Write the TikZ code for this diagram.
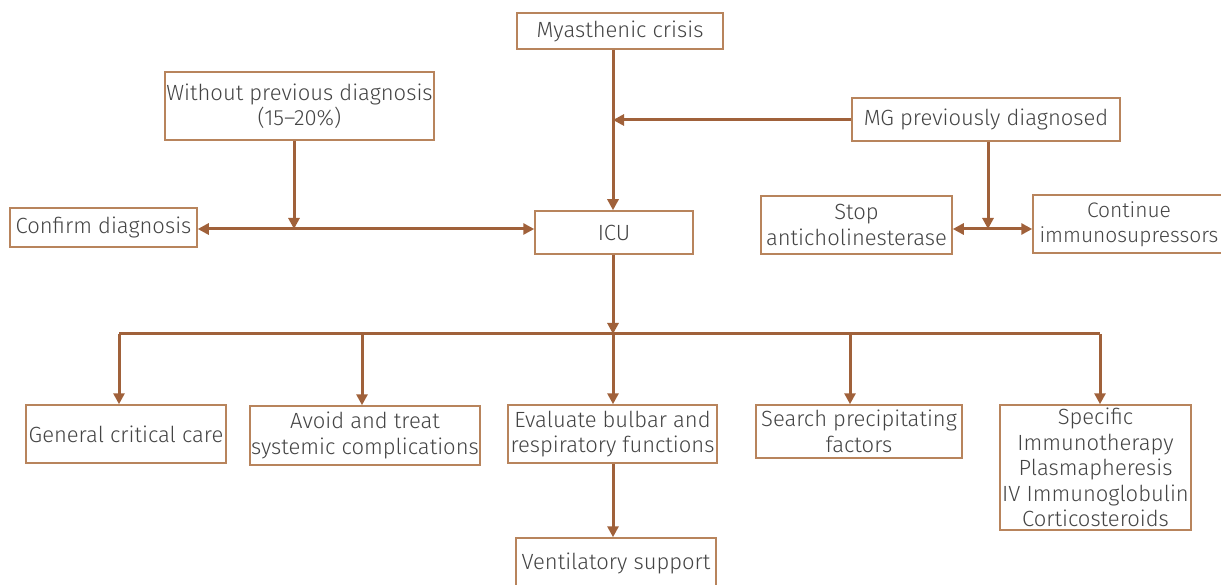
\documentclass[tikz,border=0pt]{standalone}
\usepackage{fontspec}
\setmainfont{Fira Sans}[UprightFont=* Light]
\usetikzlibrary{arrows.meta}
\definecolor{boxc}{HTML}{B8845C}
\definecolor{arrc}{HTML}{A0613A}
\definecolor{txtc}{HTML}{444444}
\tikzset{
  box/.style={draw=boxc, line width=1.5pt, fill=white, text=txtc, align=center, inner sep=0pt, font=\fontsize{22}{25.5}\selectfont},
  conn/.style={draw=arrc, line width=3pt},
  arr/.style={conn, -{Triangle[length=11pt,width=11pt]}},
  darr/.style={conn, {Triangle[length=11pt,width=11pt]}-{Triangle[length=11pt,width=11pt]}},
}
\begin{document}
\begin{tikzpicture}[x=1pt,y=-1pt]
\useasboundingbox (0,0) rectangle (1221,585);
\node[box, minimum width=206pt, minimum height=36pt] (mc) at (620,31) {Myasthenic crisis};
\node[box, minimum width=269pt, minimum height=68pt] (wp) at (299.5,106) {Without previous diagnosis\\(15--20\%)};
\node[box, minimum width=268pt, minimum height=43pt] (mg) at (986,119.5) {MG previously diagnosed};
\node[box, minimum width=187pt, minimum height=39pt] (cd) at (103.5,227.5) {Confirm diagnosis};
\node[box, minimum width=158pt, minimum height=43pt] (icu) at (614,232.5) {ICU};
\node[box, minimum width=191pt, minimum height=58pt] (sa) at (856.5,225) {Stop\\anticholinesterase};
\node[box, minimum width=192pt, minimum height=58pt, font=\fontsize{21}{25.5}\selectfont] (ci) at (1129,224) {Continue\\immunosupressors};
\node[box, minimum width=200pt, minimum height=58pt] (gc) at (126,434) {General critical care};
\node[box, minimum width=230pt, minimum height=59pt] (at) at (365,435.5) {Avoid and treat\\systemic complications};
\node[box, minimum width=209pt, minimum height=58pt] (eb) at (612.5,434) {Evaluate bulbar and\\respiratory functions};
\node[box, minimum width=206pt, minimum height=53pt] (sp) at (859,431.5) {Search precipitating\\factors};
\node[box, minimum width=191pt, minimum height=125pt] (si) at (1095.5,467.5) {Specific\\Immunotherapy\\Plasmapheresis\\IV Immunoglobulin\\Corticosteroids};
\node[box, minimum width=200pt, minimum height=50pt] (vs) at (616,563) {Ventilatory support};
% coordinates
\coordinate (j1) at (613,120);
\coordinate (j2) at (294,229);
\coordinate (j3) at (988,229);
\coordinate (h) at (613,334);
\coordinate (hl) at (119,334);
\coordinate (hr) at (1100,334);
% connectors
\draw[arr] (mc.south -| 613,0) -- (icu.north -| 613,0);
\draw[arr] (mg.west |- j1) -- (j1);
\draw[arr] (wp.south -| j2) -- (j2);
\draw[darr] (icu.west |- j2) -- (cd.east |- j2);
\draw[arr] (mg.south -| j3) -- (j3);
\draw[darr] (sa.east |- j3) -- (ci.west |- j3);
\draw[arr] (icu.south -| h) -- (h);
\draw[conn] (hl) -- (hr);
\draw[arr] (hl) -- (gc.north -| hl);
\draw[arr] (362,334) -- (at.north -| 362,0);
\draw[arr] (h) -- (eb.north -| h);
\draw[arr] (850,334) -- (sp.north -| 850,0);
\draw[arr] (hr) -- (si.north -| hr);
\draw[arr] (eb.south -| 613,0) -- (vs.north -| 613,0);
\end{tikzpicture}
\end{document}
